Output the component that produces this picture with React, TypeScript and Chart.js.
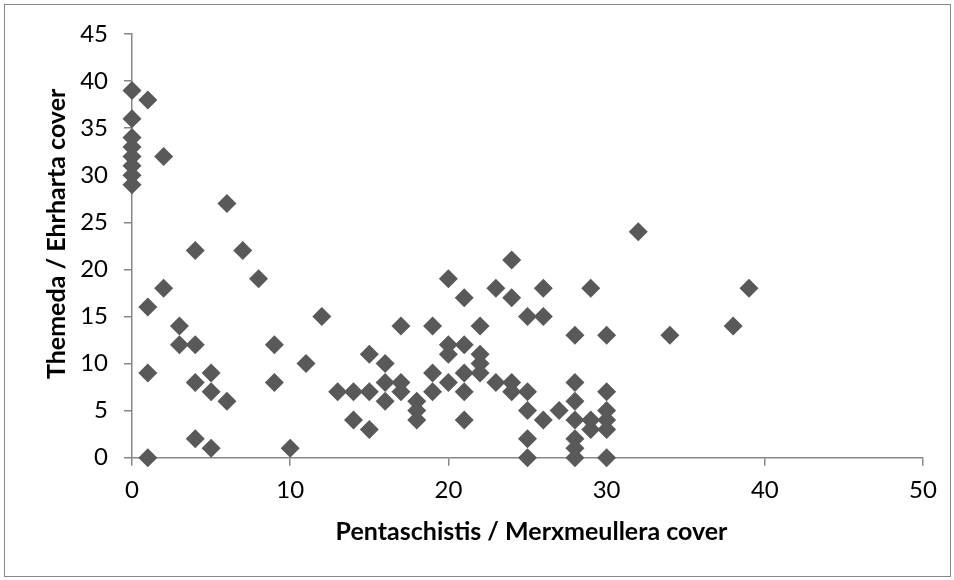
import React, { useEffect, useRef } from "react";
import { Chart, registerables } from "chart.js";

Chart.register(...registerables);

// Pentaschistis / Merxmeullera cover (x) and Themeda / Ehrharta cover (y), one entry per plot
const pentaschistisCover: number[] = [
  0, 0, 0, 0, 0, 0, 0, 0,
  1, 1, 1, 1,
  2, 2,
  3, 3,
  4, 4, 4, 4,
  5, 5, 5,
  6, 6,
  7,
  8,
  9, 9,
  10,
  11,
  12,
  13,
  14, 14,
  15, 15, 15,
  16, 16, 16,
  17, 17, 17,
  18, 18, 18,
  19, 19, 19,
  20, 20, 20, 20,
  21, 21, 21, 21, 21,
  22, 22, 22, 22,
  23, 23,
  24, 24, 24, 24,
  25, 25, 25, 25, 25,
  26, 26, 26,
  27,
  28, 28, 28, 28, 28, 28, 28,
  29, 29, 29,
  30, 30, 30, 30, 30, 30,
  32,
  34,
  38,
  39,
];

const themedaCover: number[] = [
  39, 36, 34, 33, 32, 31, 30, 29,
  38, 16, 9, 0,
  32, 18,
  14, 12,
  22, 12, 8, 2,
  9, 7, 1,
  27, 6,
  22,
  19,
  12, 8,
  1,
  10,
  15,
  7,
  7, 4,
  11, 7, 3,
  10, 8, 6,
  14, 8, 7,
  6, 5, 4,
  14, 9, 7,
  19, 12, 11, 8,
  17, 12, 9, 7, 4,
  14, 11, 10, 9,
  18, 8,
  21, 17, 8, 7,
  15, 7, 5, 2, 0,
  18, 15, 4,
  5,
  13, 8, 6, 4, 2, 1, 0,
  18, 4, 3,
  13, 7, 5, 4, 3, 0,
  24,
  13,
  14,
  18,
];

const xAxisTitle = "Pentaschistis / Merxmeullera cover";
const yAxisTitle = "Themeda / Ehrharta cover";
const xTicks = { min: 0, max: 50, step: 10 };
const yTicks = { min: 0, max: 45, step: 5 };

const FONT = "Lato, 'Open Sans', 'DejaVu Sans', sans-serif";
const AXIS_COLOR = "#878787";
const MARKER_COLOR = "#595959";

export default function App() {
  const canvasRef = useRef<HTMLCanvasElement | null>(null);

  useEffect(() => {
    const canvas = canvasRef.current;
    if (!canvas) return;

    const points = pentaschistisCover.map((x, i) => ({ x, y: themedaCover[i] }));

    const framePlugin = {
      id: "frameAndTitles",
      beforeDraw(chart: any) {
        const { ctx, width, height } = chart;
        ctx.save();
        ctx.fillStyle = "#ffffff";
        ctx.fillRect(0, 0, width, height);
        ctx.strokeStyle = AXIS_COLOR;
        ctx.lineWidth = 1;
        ctx.strokeRect(4.5, 4.5, 946, 572);
        ctx.restore();
      },
      afterDraw(chart: any) {
        const { ctx, chartArea } = chart;
        ctx.save();
        ctx.fillStyle = "#000000";
        ctx.font = `bold 25px ${FONT}`;
        ctx.textAlign = "center";
        ctx.textBaseline = "middle";
        ctx.fillText(
          xAxisTitle,
          (chartArea.left + chartArea.right) / 2 + 4,
          chartArea.bottom + 74
        );
        ctx.translate(chartArea.left - 75, (chartArea.top + chartArea.bottom) / 2 - 12);
        ctx.rotate(-Math.PI / 2);
        ctx.fillText(yAxisTitle, 0, 0);
        ctx.restore();
      },
    };

    const chart = new Chart(canvas, {
      type: "scatter",
      data: {
        datasets: [
          {
            label: "cover",
            data: points,
            pointStyle: "rectRot",
            pointRadius: 9.5,
            pointHoverRadius: 9.5,
            backgroundColor: MARKER_COLOR,
            borderColor: MARKER_COLOR,
            pointBorderWidth: 0,
            clip: false,
          },
        ],
      },
      options: {
        responsive: false,
        animation: false,
        devicePixelRatio: 1,
        layout: { padding: { top: 34, right: 31, bottom: 0, left: 0 } },
        plugins: {
          legend: { display: false },
          tooltip: { enabled: false },
          title: { display: false },
        },
        scales: {
          x: {
            type: "linear",
            min: xTicks.min,
            max: xTicks.max,
            afterFit: (s: any) => {
              s.height = 122.3;
            },
            ticks: {
              stepSize: xTicks.step,
              color: "#000000",
              font: { family: FONT, size: 24 },
              padding: 10,
              maxRotation: 0,
            },
            grid: {
              display: true,
              drawOnChartArea: false,
              drawTicks: true,
              tickLength: 8,
              color: AXIS_COLOR,
              lineWidth: 1.5,
            },
            border: { display: true, color: AXIS_COLOR, width: 1.5 },
          },
          y: {
            type: "linear",
            min: yTicks.min,
            max: yTicks.max,
            afterFit: (s: any) => {
              s.width = 132;
            },
            ticks: {
              stepSize: yTicks.step,
              color: "#000000",
              font: { family: FONT, size: 24 },
              padding: 16,
            },
            grid: {
              display: true,
              drawOnChartArea: false,
              drawTicks: true,
              tickLength: 8,
              color: AXIS_COLOR,
              lineWidth: 1.5,
            },
            border: { display: true, color: AXIS_COLOR, width: 1.5 },
          },
        },
      },
      plugins: [framePlugin],
    });

    return () => {
      chart.destroy();
    };
  }, []);

  return (
    <div style={{ position: "fixed", left: 0, top: 0, width: 954, height: 580, background: "#fff" }}>
      <canvas ref={canvasRef} width={954} height={580} style={{ display: "block", width: 954, height: 580 }} />
    </div>
  );
}
